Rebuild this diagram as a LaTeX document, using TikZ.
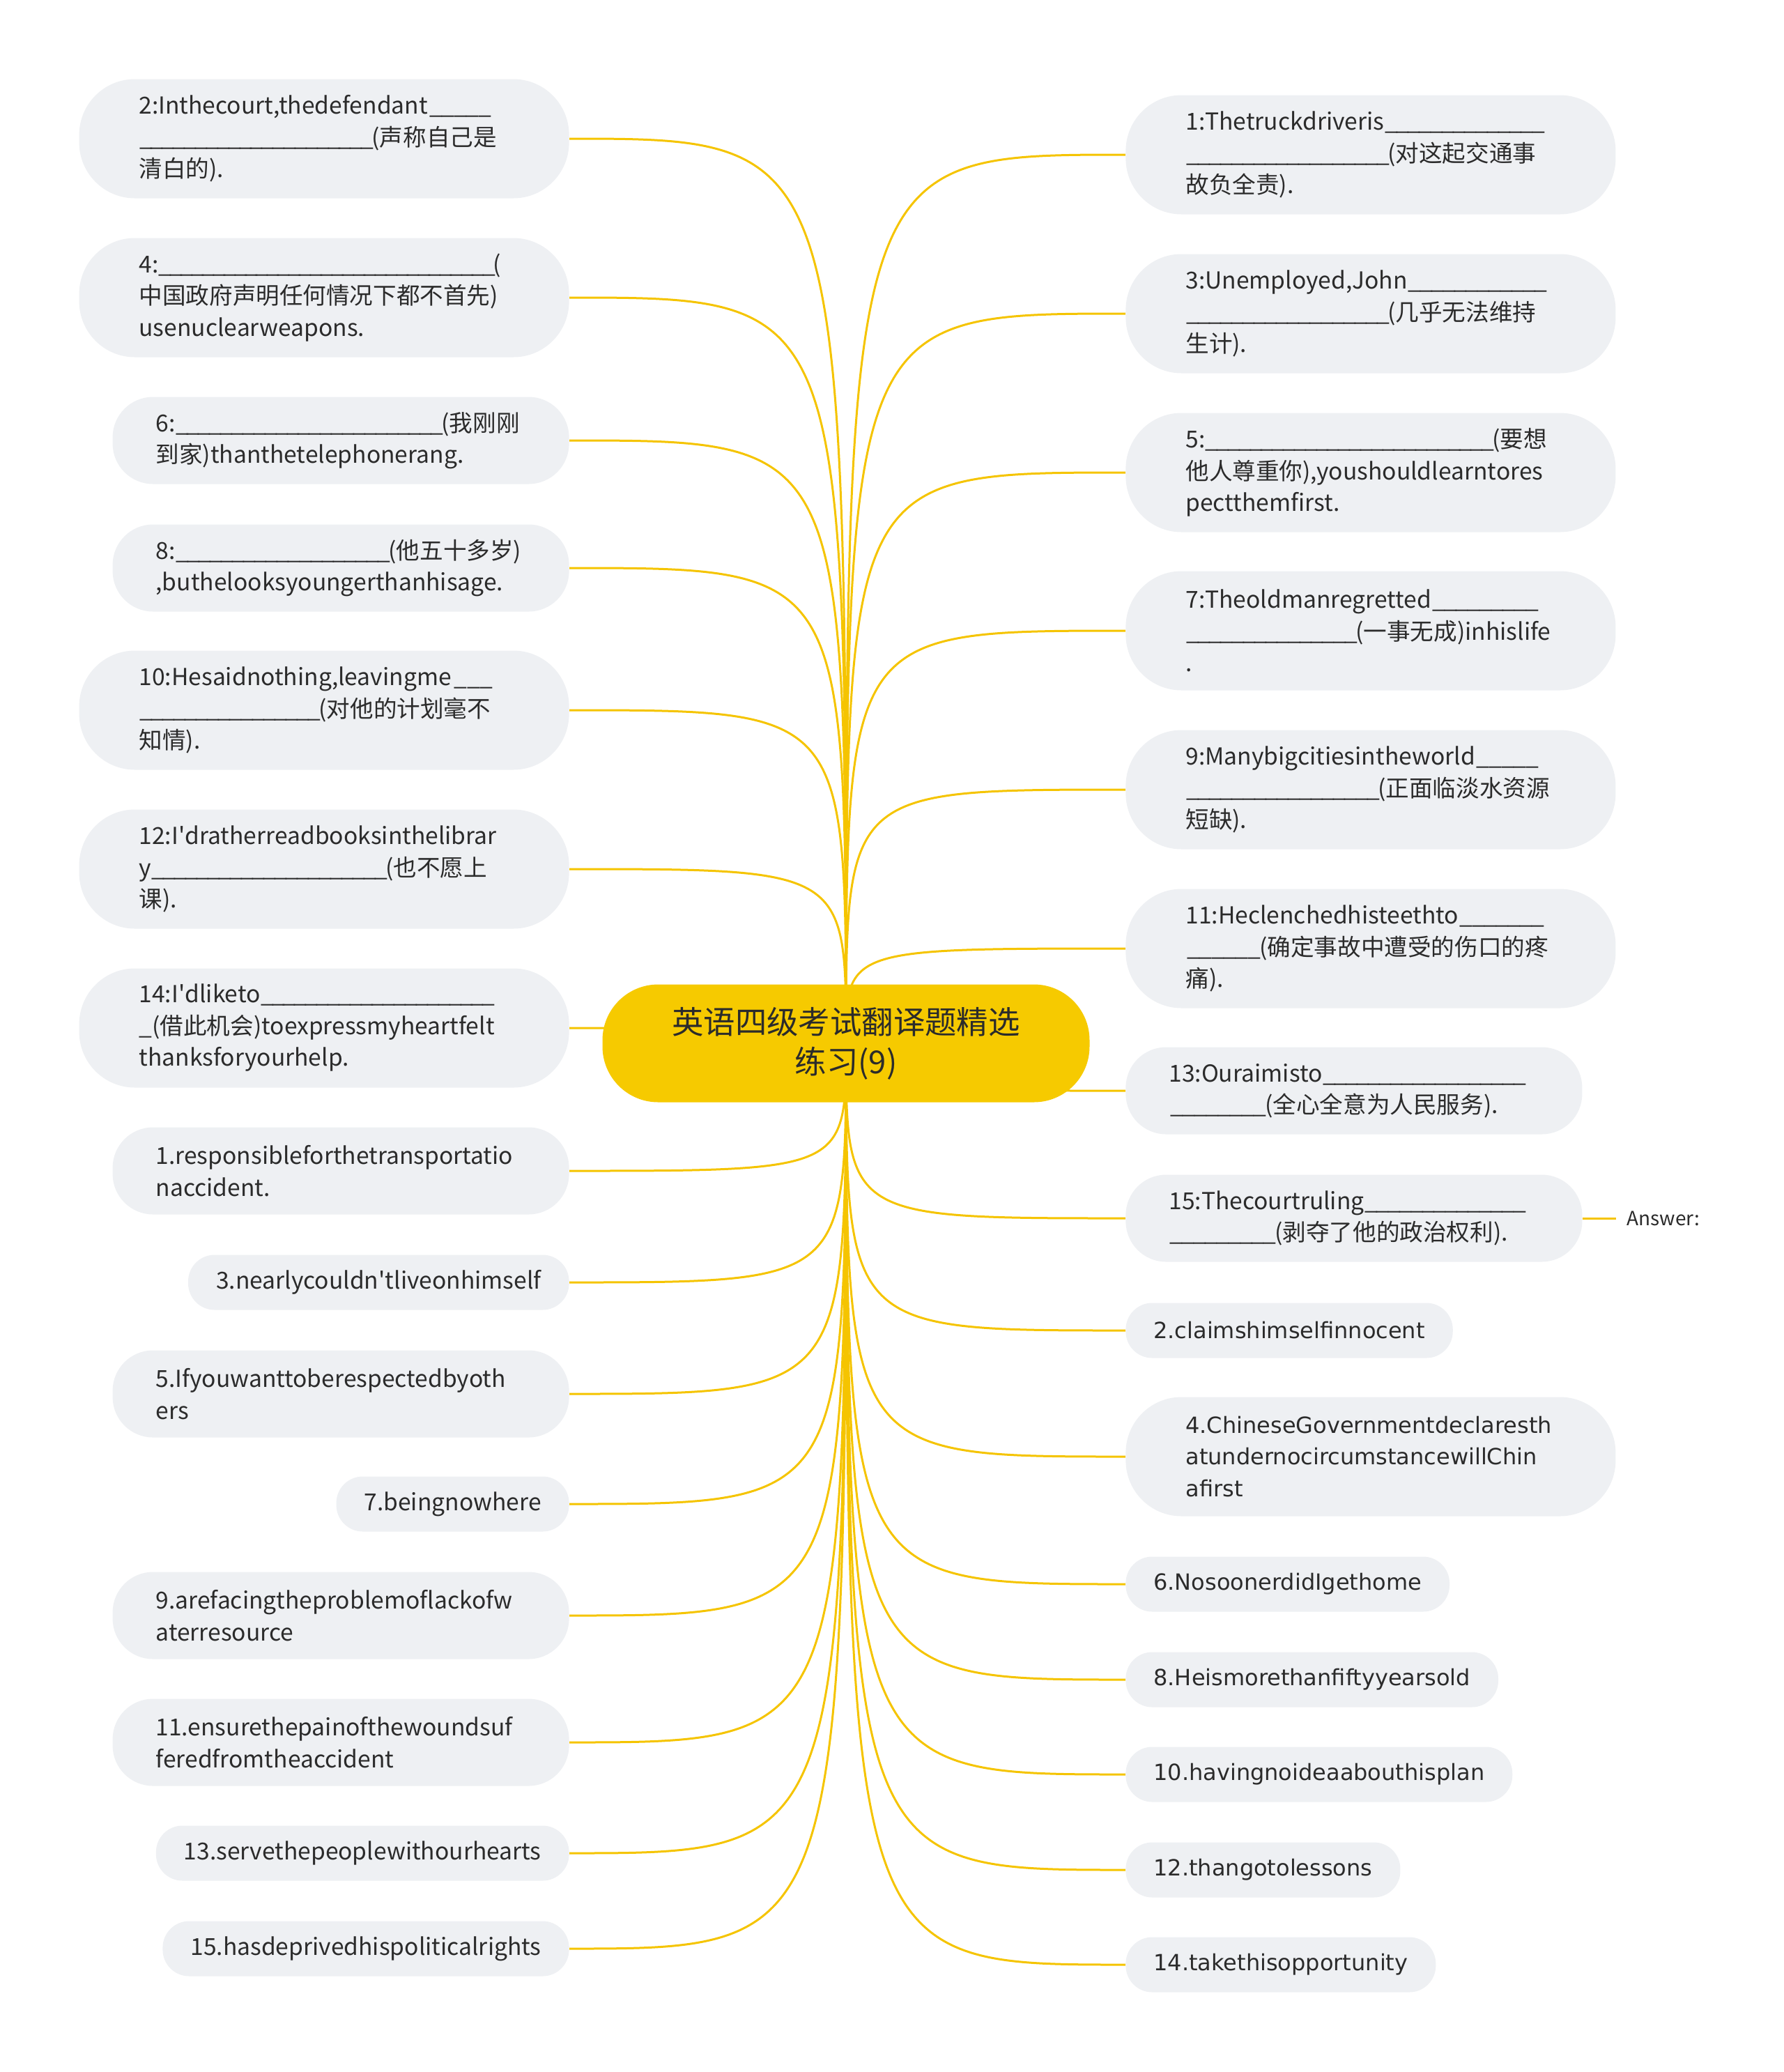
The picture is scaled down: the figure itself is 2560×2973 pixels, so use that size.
\documentclass[tikz,border=0pt]{standalone}
\usepackage{fontspec}
\setmainfont{Noto Sans CJK SC}
\newfontfamily\ansfont{DejaVu Sans}
\usetikzlibrary{backgrounds}

\definecolor{mapyellow}{HTML}{F5C400}
\definecolor{rootfill}{HTML}{F6CA00}
\definecolor{leaffill}{HTML}{EEF0F3}
\definecolor{inktext}{HTML}{2B2B2B}
\newcommand\blank[1]{\leavevmode\hbox to #1{\xleaders\hbox{\_\kern-0.1em}\hfil}}
\newcommand\apos{\textquotesingle}

\begin{document}
\begin{tikzpicture}[x=0.5pt,y=-0.5pt,
   leaf/.style={fill=leaffill,text=inktext,align=left,inner ysep=0pt,
      font=\fontsize{16.8}{22.75}\selectfont},
   leafA/.style={leaf,text width=265.5pt,minimum height=85.5pt,inner xsep=43pt,rounded corners=40pt},
   leafB/.style={leaf,text width=265.5pt,minimum height=62.5pt,inner xsep=31pt,rounded corners=29pt},
   leafC/.style={leaf,minimum height=39.5pt,inner xsep=20pt,rounded corners=19pt},
   ans/.style={font=\ansfont\fontsize{16}{22.75}\selectfont},
   link/.style={draw=mapyellow,line width=1.5pt},
   root/.style={fill=rootfill,text=inktext,align=center,minimum width=349.5pt,
      minimum height=84.5pt,rounded corners=40pt,font=\fontsize{22.7}{28.5}\selectfont}]
   \useasboundingbox (0,0) rectangle (2560,2973);

   % centre
   \node[root] (root) at (1214,1497) {英语四级考试翻译题精选\\练习(9)};

   % left side
   \node[leafA,anchor=east] (q2) at (817,199) {2:Inthecourt,thedefendant\blank{45pt}\\\blank{167pt}(声称自己是\\清白的).};
   \node[leafA,anchor=east] (q4) at (817,427) {4:\blank{240pt}(\\中国政府声明任何情况下都不首先)\\usenuclearweapons.};
   \node[leafB,anchor=east] (q6) at (817,632) {6:\blank{191pt}(我刚刚\\到家)thanthetelephonerang.};
   \node[leafB,anchor=east] (q8) at (817,815) {8:\blank{153pt}(他五十多岁)\\,buthelooksyoungerthanhisage.};
   \node[leafA,anchor=east] (q10) at (817,1019) {10:Hesaidnothing,leavingme\blank{30pt}\\\blank{129pt}(对他的计划毫不\\知情).};
   \node[leafA,anchor=east] (q12) at (817,1247) {12:I\apos dratherreadbooksinthelibrar\\y\blank{168pt}(也不愿上\\课).};
   \node[leafA,anchor=east] (q14) at (817,1475) {14:I\apos dliketo\blank{167pt}\\\_(借此机会)toexpressmyheartfelt\\thanksforyourhelp.};
   \node[leafB,anchor=east] (a1) at (817,1680) {1.responsibleforthetransportatio\\naccident.};
   \node[leafC,anchor=east] (a3) at (817,1840) {3.nearlycouldn\apos tliveonhimself};
   \node[leafB,anchor=east] (a5) at (817,2000) {5.Ifyouwanttoberespectedbyoth\\ers};
   \node[leafC,anchor=east] (a7) at (817,2158) {7.beingnowhere};
   \node[leafB,anchor=east] (a9) at (817,2318) {9.arefacingtheproblemoflackofw\\aterresource};
   \node[leafB,anchor=east] (a11) at (817,2500) {11.ensurethepainofthewoundsuf\\feredfromtheaccident};
   \node[leafC,anchor=east] (a13) at (817,2659) {13.servethepeoplewithourhearts};
   \node[leafC,anchor=east] (a15) at (817,2796) {15.hasdeprivedhispoliticalrights};

   % right side
   \node[leafA,anchor=west] (q1) at (1615,222) {1:Thetruckdriveris\blank{114pt}\\\blank{145pt}(对这起交通事\\故负全责).};
   \node[leafA,anchor=west] (q3) at (1615,450) {3:Unemployed,John\blank{99pt}\\\blank{145pt}(几乎无法维持\\生计).};
   \node[leafA,anchor=west] (q5) at (1615,678) {5:\blank{206pt}(要想\\他人尊重你),youshouldlearntores\\pectthemfirst.};
   \node[leafA,anchor=west] (q7) at (1615,905) {7:Theoldmanregretted\blank{76pt}\\\blank{122pt}(一事无成)inhislife\\.};
   \node[leafA,anchor=west] (q9) at (1615,1133) {9:Manybigcitiesintheworld\blank{45pt}\\\blank{138pt}(正面临淡水资源\\短缺).};
   \node[leafA,anchor=west] (q11) at (1615,1361) {11:Heclenchedhisteethto\blank{61pt}\\\blank{53pt}(确定事故中遭受的伤口的疼\\痛).};
   \node[leafB,anchor=west] (q13) at (1615,1565) {13:Ouraimisto\blank{145pt}\\\blank{69pt}(全心全意为人民服务).};
   \node[leafB,anchor=west] (q15) at (1615,1748) {15:Thecourtruling\blank{115pt}\\\blank{76pt}(剥夺了他的政治权利).};
   \node[leafC,ans,anchor=west] (a2) at (1615,1909) {2.claimshimselfinnocent};
   \node[leafA,ans,anchor=west] (a4) at (1615,2090) {4.ChineseGovernmentdeclaresth\\atundernocircumstancewillChin\\afirst};
   \node[leafC,ans,anchor=west] (a6) at (1615,2273) {6.NosoonerdidIgethome};
   \node[leafC,ans,anchor=west] (a8) at (1615,2410) {8.Heismorethanfiftyyearsold};
   \node[leafC,ans,anchor=west] (a10) at (1615,2546) {10.havingnoideaabouthisplan};
   \node[leafC,ans,anchor=west] (a12) at (1615,2683) {12.thangotolessons};
   \node[leafC,ans,anchor=west] (a14) at (1615,2819) {14.takethisopportunity};

   \node[anchor=west,inner xsep=7.5pt,text=inktext,font=\fontsize{14}{16}\selectfont] (answer) at (2319,1748) {Answer:};

   % connectors
   \begin{scope}[on background layer]
   \foreach \n in {q2,q4,q6,q8,q10,q12,q14,a1,a3,a5,a7,a9,a11,a13,a15}
      \draw[link] (root.center) .. controls (root.center |- \n.east) .. (\n.east);
   \foreach \n in {q1,q3,q5,q7,q9,q11,q13,q15,a2,a4,a6,a8,a10,a12,a14}
      \draw[link] (root.center) .. controls (root.center |- \n.west) .. (\n.west);
   \draw[link] (q15.east) -- (answer.west);
   \end{scope}
\end{tikzpicture}
\end{document}
